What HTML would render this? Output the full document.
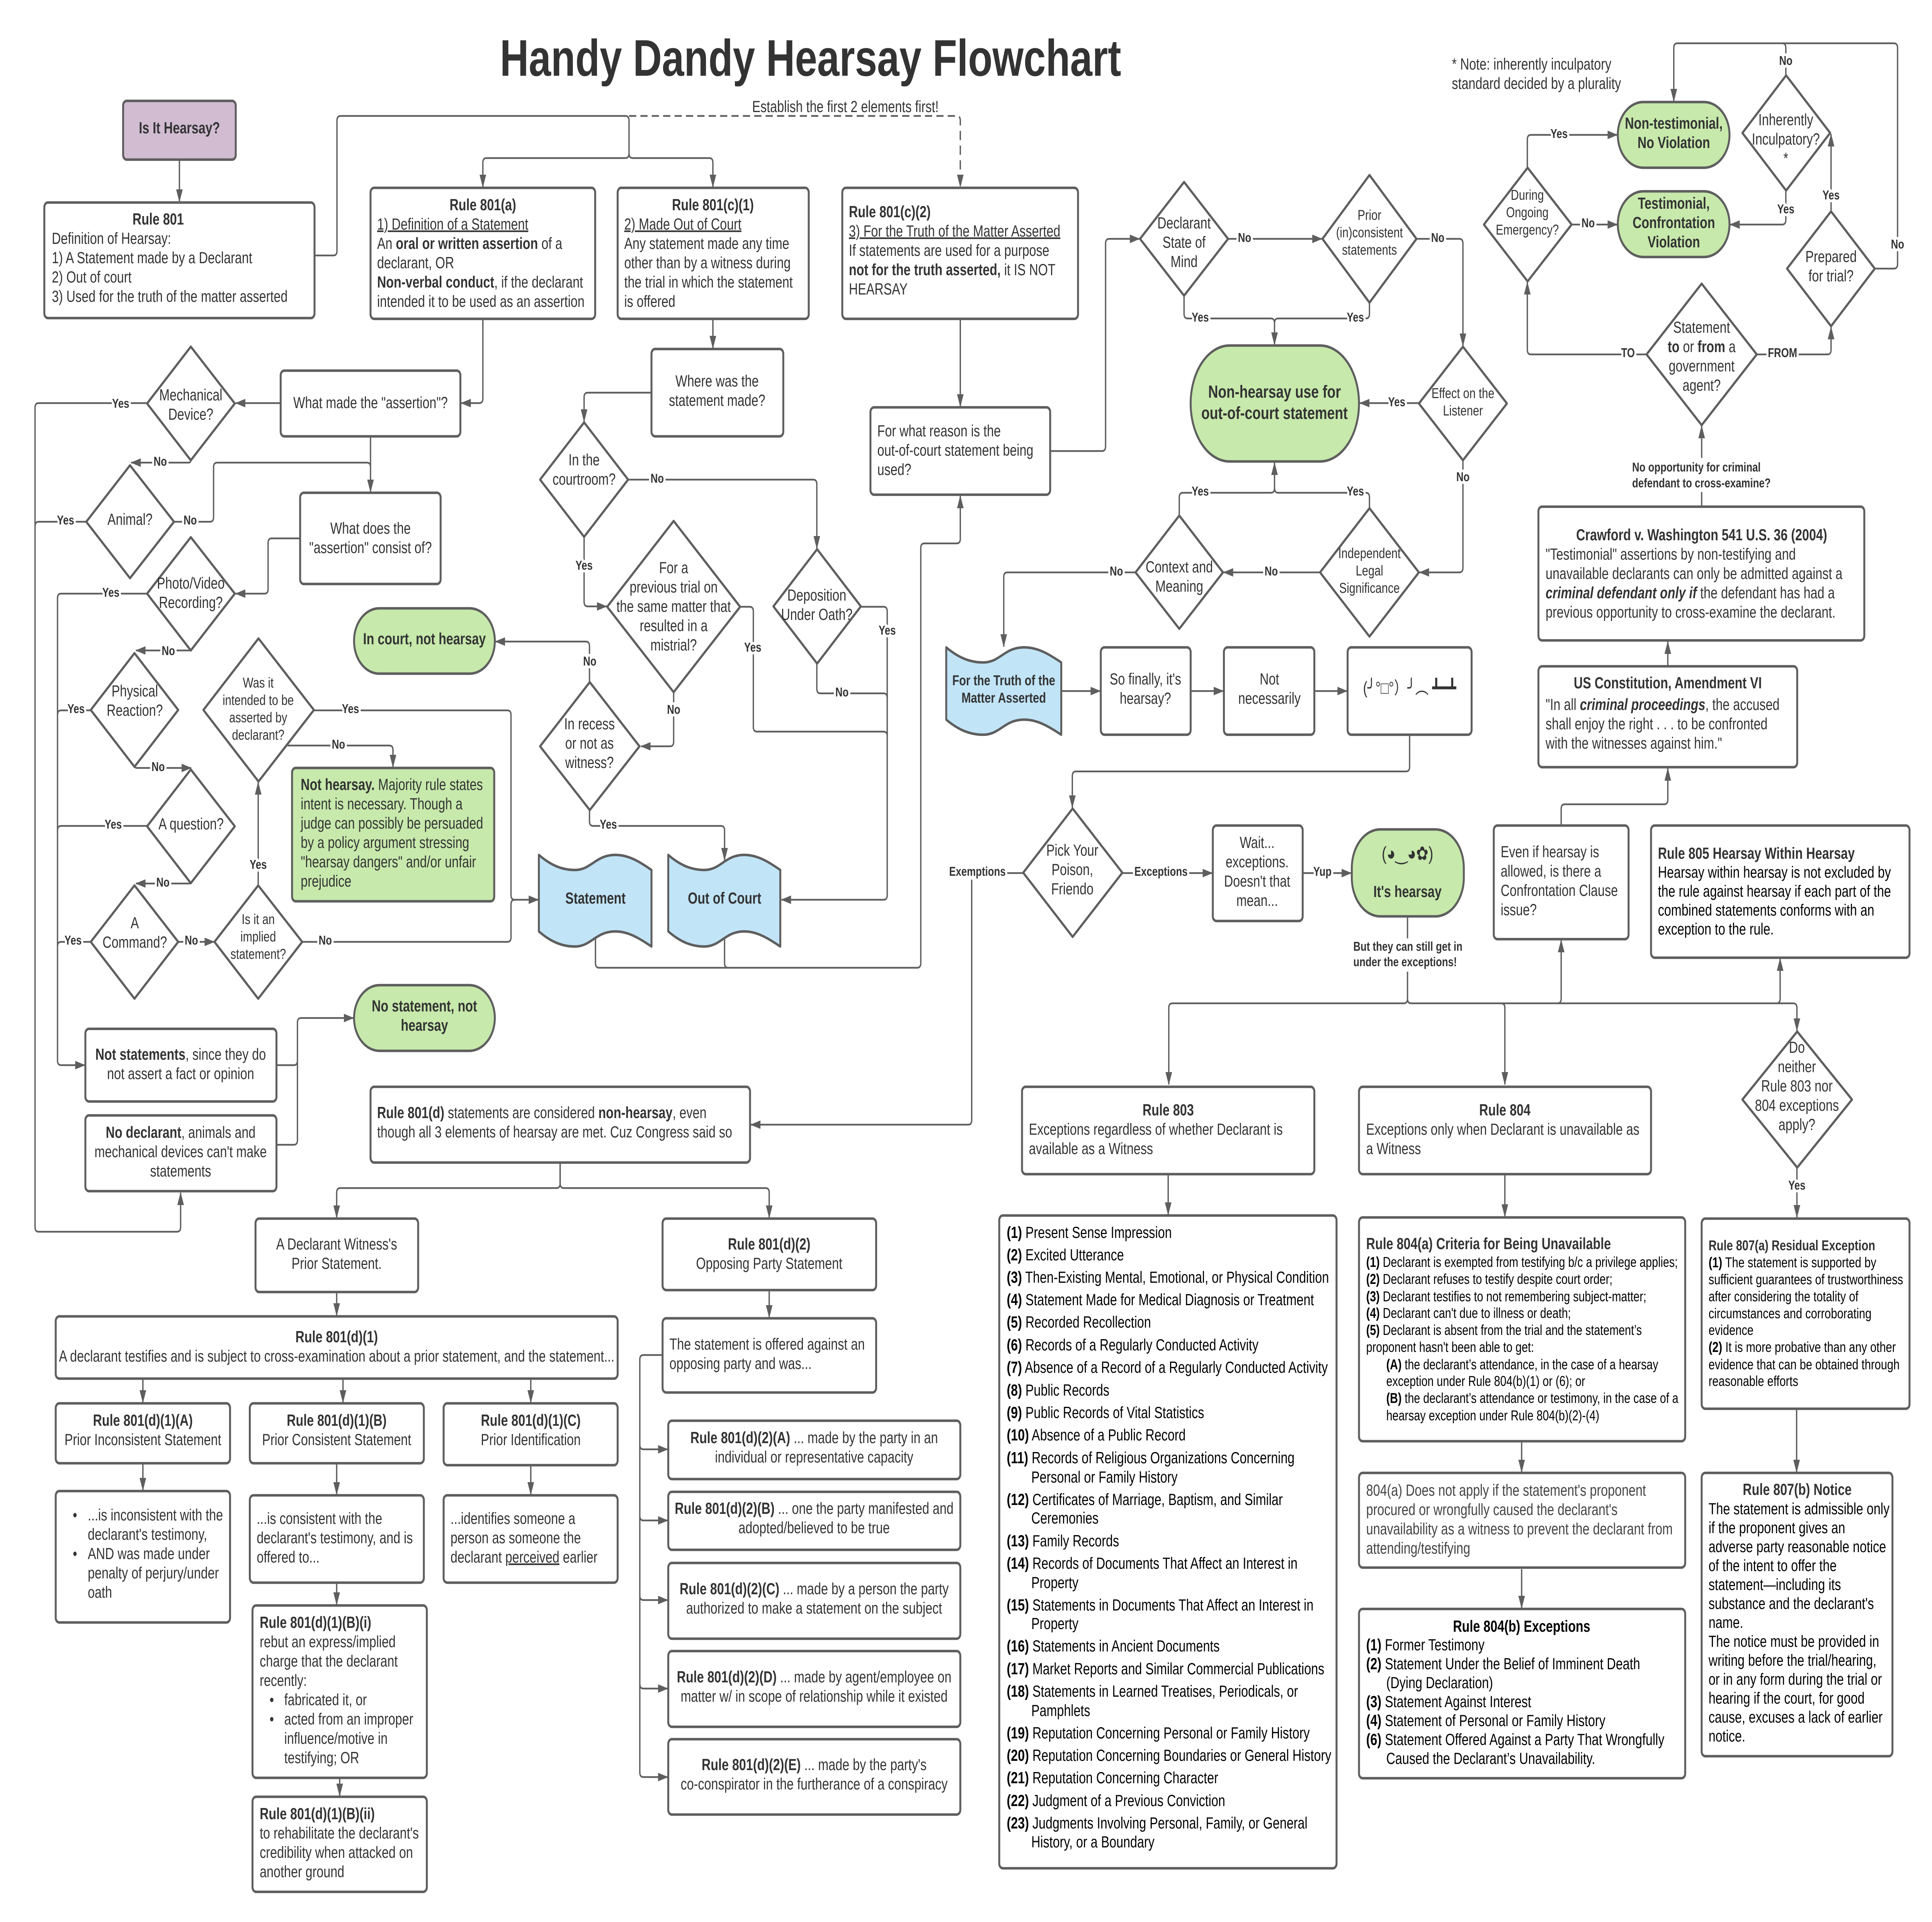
<!DOCTYPE html>
<html><head><meta charset="utf-8"><title>Handy Dandy Hearsay Flowchart</title>
<style>
html,body{margin:0;padding:0;background:#fff;width:100%;height:100%;overflow:hidden}
svg{display:block;width:100vw;height:100vh}
text{font-family:"Liberation Sans","DejaVu Sans","Noto Sans CJK JP",sans-serif;font-size:41.67px;fill:#333}
.c{text-anchor:middle}
.s{font-size:37.5px}
.k{fill:#000}
.g{fill:#444}
.b{font-weight:700}
.l{font-weight:700;font-size:33.3px;text-anchor:middle;paint-order:stroke;stroke:#fff;stroke-width:14px;stroke-linejoin:round}
.m{font-weight:700;font-size:33.3px}
.u{text-decoration:underline}
.n rect,.n polygon,.n path{stroke:#5e5e5e;stroke-width:6.5;stroke-linejoin:round;fill:#fff}
.n .gr{fill:#c7e9ac}
.n .bl{fill:#c1e4f7}
.n .pu{fill:#d1bcd2}
.e path{fill:none;stroke:#5e5e5e;stroke-width:4.5}
</style></head><body>
<svg xmlns="http://www.w3.org/2000/svg" viewBox="0 0 6450 4973" preserveAspectRatio="none">
<defs><marker id="a" markerUnits="userSpaceOnUse" markerWidth="36" markerHeight="24" refX="32" refY="12" orient="auto"><path d="M0 1L34 12L0 23Z" fill="#5e5e5e"/></marker></defs>
<rect x="0" y="0" width="6450" height="4973" fill="#fff"/>

<g class="e">
<path marker-end="url(#a)" d="M599 413V522"/>
<path marker-end="url(#a)" d="M1053 661H1113Q1125 661 1125 649V312Q1125 300 1137 300H2088Q2100 300 2100 312V397Q2100 409 2088 409H1624Q1612 409 1612 421V484"/>
<path marker-end="url(#a)" d="M2100 397Q2100 409 2112 409H2368Q2380 409 2380 421V484"/>
<path marker-end="url(#a)" stroke-dasharray="24 14" d="M2100 300H3194Q3206 300 3206 312V484"/>
<path marker-end="url(#a)" d="M1612 825V1031Q1612 1043 1600 1043H1540"/>
<path marker-end="url(#a)" d="M937 1043H787"/>
<path marker-end="url(#a)" d="M637 1187V1190Q637 1197 630 1197H438"/>
<path marker-end="url(#a)" d="M491 1043H129Q117 1043 117 1055V3175Q117 3187 129 3187H591Q603 3187 603 3175V3086"/>
<path d="M288 1350H129Q117 1350 117 1362"/>
<path marker-end="url(#a)" d="M1237 1129V1273"/>
<path d="M581 1350H701Q713 1350 713 1338V1209Q713 1197 725 1197H1225Q1237 1197 1237 1209"/>
<path marker-end="url(#a)" d="M1002 1393H907Q895 1393 895 1405V1524Q895 1536 883 1536H787"/>
<path marker-end="url(#a)" d="M491 1536H204Q192 1536 192 1548V2744Q192 2756 204 2756H283"/>
<path marker-end="url(#a)" d="M637 1679Q637 1683 630 1683H454"/>
<path d="M303 1838H204Q192 1838 192 1850"/>
<path marker-end="url(#a)" d="M450 1982Q450 1987 458 1987H638"/>
<path d="M491 2137H204Q192 2137 192 2149"/>
<path marker-end="url(#a)" d="M638 2282Q638 2286 630 2286H454"/>
<path d="M303 2437H204Q192 2437 192 2449"/>
<path marker-end="url(#a)" d="M595 2437H715"/>
<path marker-end="url(#a)" d="M862 2291V2024"/>
<path d="M1009 2437H1694Q1706 2437 1706 2425V2340Q1706 2328 1718 2328"/>
<path marker-end="url(#a)" d="M1048 1838H1694Q1706 1838 1706 1850V2316Q1706 2328 1718 2328H1797"/>
<path marker-end="url(#a)" d="M960 1929H1300Q1312 1929 1312 1941V1985"/>
<path marker-end="url(#a)" d="M923 2756H981Q993 2756 993 2744V2646Q993 2634 1005 2634H1180"/>
<path d="M923 2962H981Q993 2962 993 2950V2744"/>
<path marker-end="url(#a)" d="M2175 1016H1962Q1950 1016 1950 1028V1091"/>
<path marker-end="url(#a)" d="M2380 825V901"/>
<path marker-end="url(#a)" d="M1950 1389V1557Q1950 1569 1962 1569H2025"/>
<path marker-end="url(#a)" d="M2097 1241H2715Q2727 1241 2727 1253V1419"/>
<path marker-end="url(#a)" d="M2249 1791V1919Q2249 1931 2237 1931H2140"/>
<path marker-end="url(#a)" d="M1968 1765V1672Q1968 1660 1956 1660H1654"/>
<path marker-end="url(#a)" d="M1968 2096V2125Q1968 2137 1980 2137H2407Q2419 2137 2419 2149V2226"/>
<path d="M2471 1570H2503Q2515 1570 2515 1582V1881Q2515 1893 2527 1893H2950Q2962 1893 2962 1905"/>
<path marker-end="url(#a)" d="M2874 1570H2950Q2962 1570 2962 1582V2316Q2962 2328 2950 2328H2609"/>
<path d="M2727 1717V1782Q2727 1794 2739 1794H2950Q2962 1794 2962 1806"/>
<path marker-end="url(#a)" d="M1988 2427V2492Q1988 2504 2000 2504H3062Q3074 2504 3074 2492V1418Q3074 1406 3086 1406H3194Q3206 1406 3206 1394V1283"/>
<path d="M2419 2430V2492Q2419 2504 2431 2504"/>
<path marker-end="url(#a)" d="M3206 825V1052"/>
<path marker-end="url(#a)" d="M3506 1167H3679Q3691 1167 3691 1155V630Q3691 618 3703 618H3804"/>
<path marker-end="url(#a)" d="M4100 618H4413"/>
<path marker-end="url(#a)" d="M3953 765V812Q3953 824 3965 824H4243Q4255 824 4255 836V892"/>
<path d="M4572 783V812Q4572 824 4560 824H4267Q4255 824 4255 836"/>
<path marker-end="url(#a)" d="M4729 618H4872Q4884 618 4884 630V895"/>
<path marker-end="url(#a)" d="M4737 1043H4540"/>
<path marker-end="url(#a)" d="M4884 1191V1469Q4884 1481 4872 1481H4739"/>
<path marker-end="url(#a)" d="M4572 1315V1287Q4572 1275 4560 1275H4267Q4255 1275 4255 1263V1197"/>
<path d="M3937 1334V1287Q3937 1275 3949 1275H4243Q4255 1275 4255 1263"/>
<path marker-end="url(#a)" d="M4407 1481H4085"/>
<path marker-end="url(#a)" d="M3791 1481H3363Q3351 1481 3351 1493V1673"/>
<path marker-end="url(#a)" d="M3543 1788H3673"/>
<path marker-end="url(#a)" d="M3975 1788H4084"/>
<path marker-end="url(#a)" d="M4388 1788H4497"/>
<path marker-end="url(#a)" d="M4706 1901V1984Q4706 1996 4694 1996H3592Q3580 1996 3580 2008V2090"/>
<path marker-end="url(#a)" d="M3747 2259H4047"/>
<path marker-end="url(#a)" d="M4349 2259H4511"/>
<path marker-end="url(#a)" d="M3416 2259H3244V2898Q3244 2910 3232 2910H2507"/>
<path marker-end="url(#a)" d="M1870 3008V3062Q1870 3074 1858 3074H1136Q1124 3074 1124 3086V3151"/>
<path marker-end="url(#a)" d="M1870 3008V3062Q1870 3074 1882 3074H2556Q2568 3074 2568 3086V3151"/>
<path marker-end="url(#a)" d="M1124 3343V3404"/>
<path marker-end="url(#a)" d="M477 3570V3629"/>
<path marker-end="url(#a)" d="M1145 3570V3629"/>
<path marker-end="url(#a)" d="M1772 3570V3629"/>
<path marker-end="url(#a)" d="M477 3789V3856"/>
<path marker-end="url(#a)" d="M1124 3789V3867"/>
<path marker-end="url(#a)" d="M1772 3794V3867"/>
<path marker-end="url(#a)" d="M1124 4098V4152"/>
<path marker-end="url(#a)" d="M1134 4603V4647"/>
<path marker-end="url(#a)" d="M2568 3338V3409"/>
<path marker-end="url(#a)" d="M2212 3506H2148Q2136 3506 2136 3518V4586Q2136 4598 2148 4598H2229"/>
<path marker-end="url(#a)" d="M2136 3738Q2136 3750 2148 3750H2229"/>
<path marker-end="url(#a)" d="M2136 3922Q2136 3934 2148 3934H2229"/>
<path marker-end="url(#a)" d="M2136 4128Q2136 4140 2148 4140H2229"/>
<path marker-end="url(#a)" d="M2136 4357Q2136 4369 2148 4369H2229"/>
<path marker-end="url(#a)" d="M4699 2373V2584Q4699 2596 4687 2596H3914Q3902 2596 3902 2608V2806"/>
<path marker-end="url(#a)" d="M4699 2584Q4699 2596 4711 2596H5012Q5024 2596 5024 2608V2806"/>
<path marker-end="url(#a)" d="M5012 2596H5200Q5212 2596 5212 2584V2432"/>
<path marker-end="url(#a)" d="M5200 2596H5931Q5943 2596 5943 2584V2480"/>
<path marker-end="url(#a)" d="M5931 2596H5987Q5999 2596 5999 2608V2667"/>
<path marker-end="url(#a)" d="M5212 2136V2093Q5212 2081 5224 2081H5556Q5568 2081 5568 2069V1988"/>
<path marker-end="url(#a)" d="M5568 1724V1660"/>
<path marker-end="url(#a)" d="M5681 1311V1102"/>
<path marker-end="url(#a)" d="M5497 917H5111Q5099 917 5099 905V730"/>
<path marker-end="url(#a)" d="M5865 917H6101Q6113 917 6113 905V846"/>
<path marker-end="url(#a)" d="M5099 434V361Q5099 349 5111 349H5399"/>
<path marker-end="url(#a)" d="M5247 581H5399"/>
<path marker-end="url(#a)" d="M5962 493V569Q5962 581 5950 581H5776"/>
<path d="M5962 195V124Q5962 112 5950 112"/>
<path marker-end="url(#a)" d="M6259 695H6323Q6335 695 6335 683V124Q6335 112 6323 112H5600Q5588 112 5588 124V262"/>
<path marker-end="url(#a)" d="M6113 547V347"/>
<path marker-end="url(#a)" d="M5999 3021V3150"/>
<path marker-end="url(#a)" d="M3900 3038V3143"/>
<path marker-end="url(#a)" d="M5024 3038V3148"/>
<path marker-end="url(#a)" d="M5080 3729V3809"/>
<path marker-end="url(#a)" d="M5080 4060V4161"/>
<path marker-end="url(#a)" d="M5998 3645V3809"/>
</g>
<rect x="5440" y="1185" width="490" height="88" fill="#fff"/>
<rect x="4510" y="2428" width="380" height="86" fill="#fff"/>
<rect x="3170" y="2240" width="180" height="36" fill="#fff"/>

<g class="n">
<rect class="pu" x="411" y="261" width="376" height="152" rx="12"/>
<rect x="148" y="524" width="902" height="299" rx="12"/>
<rect x="1237" y="486" width="750" height="339" rx="12"/>
<rect x="2062" y="486" width="638" height="339" rx="12"/>
<rect x="2812" y="486" width="787" height="339" rx="12"/>
<rect x="937" y="959" width="600" height="170" rx="12"/>
<rect x="1002" y="1275" width="469" height="236" rx="12"/>
<rect x="2175" y="903" width="440" height="226" rx="12"/>
<rect x="2906" y="1054" width="600" height="226" rx="12"/>
<rect class="gr" x="3975" y="894" width="562" height="300" rx="130" ry="150"/>
<rect class="gr" x="5401" y="264" width="373" height="170" rx="85"/>
<rect class="gr" x="5401" y="495" width="373" height="170" rx="85"/>
<rect x="5136" y="1311" width="1088" height="346" rx="12"/>
<rect x="5136" y="1724" width="864" height="261" rx="12"/>
<rect x="4987" y="2136" width="450" height="294" rx="12"/>
<rect x="5512" y="2136" width="863" height="342" rx="12"/>
<rect x="4499" y="1675" width="414" height="226" rx="12"/>
<rect x="4086" y="1675" width="302" height="226" rx="12"/>
<rect x="3675" y="1675" width="300" height="226" rx="12"/>
<rect x="4049" y="2136" width="300" height="247" rx="12"/>
<rect class="gr" x="4513" y="2146" width="374" height="225" rx="95" ry="100"/>
<rect x="3412" y="2812" width="976" height="226" rx="12"/>
<rect x="4537" y="2812" width="975" height="226" rx="12"/>
<rect x="3336" y="3145" width="1126" height="1689" rx="12"/>
<rect x="4537" y="3150" width="1089" height="579" rx="12"/>
<rect x="4537" y="3811" width="1089" height="245" rx="12"/>
<rect x="4537" y="4163" width="1089" height="438" rx="12"/>
<rect x="5681" y="3153" width="694" height="492" rx="12"/>
<rect x="5681" y="3811" width="637" height="733" rx="12"/>
<rect class="gr" x="1182" y="1574" width="470" height="169" rx="84"/>
<rect class="gr" x="1182" y="2549" width="470" height="170" rx="85"/>
<rect class="gr" x="975" y="1987" width="675" height="345" rx="12"/>
<rect x="285" y="2662" width="638" height="188" rx="12"/>
<rect x="285" y="2886" width="638" height="196" rx="12"/>
<rect x="1237" y="2812" width="1267" height="196" rx="12"/>
<rect x="853" y="3153" width="543" height="190" rx="12"/>
<rect x="2212" y="3153" width="713" height="185" rx="12"/>
<rect x="186" y="3406" width="1876" height="161" rx="12"/>
<rect x="186" y="3631" width="582" height="155" rx="12"/>
<rect x="834" y="3631" width="581" height="155" rx="12"/>
<rect x="1481" y="3631" width="581" height="160" rx="12"/>
<rect x="186" y="3858" width="582" height="340" rx="12"/>
<rect x="834" y="3869" width="581" height="226" rx="12"/>
<rect x="1481" y="3869" width="581" height="226" rx="12"/>
<rect x="843" y="4154" width="582" height="446" rx="12"/>
<rect x="843" y="4649" width="582" height="246" rx="12"/>
<rect x="2212" y="3411" width="713" height="192" rx="12"/>
<rect x="2231" y="3676" width="975" height="151" rx="12"/>
<rect x="2231" y="3860" width="975" height="150" rx="12"/>
<rect x="2231" y="4044" width="975" height="196" rx="12"/>
<rect x="2231" y="4272" width="975" height="196" rx="12"/>
<rect x="2231" y="4500" width="975" height="195" rx="12"/>

<polygon points="637,897 784,1044 637,1191 491,1044"/>
<polygon points="434,1204 581,1350 434,1496 288,1350"/>
<polygon points="637,1390 784,1536 637,1683 491,1536"/>
<polygon points="449,1690 595,1837 449,1984 303,1837"/>
<polygon points="637,1991 784,2138 637,2285 491,2138"/>
<polygon points="449,2291 595,2437 449,2584 303,2437"/>
<polygon points="862,2291 1009,2437 862,2584 716,2437"/>
<polygon points="863,1652 1048,1837 863,2022 679,1837"/>
<polygon points="1950,1093 2097,1241 1950,1389 1803,1241"/>
<polygon points="2249,1348 2471,1570 2249,1791 2027,1570"/>
<polygon points="2728,1421 2874,1569 2728,1717 2582,1569"/>
<polygon points="1969,1765 2135,1931 1969,2096 1803,1931"/>
<polygon points="3953,471 4100,618 3953,765 3806,618"/>
<polygon points="4572,453 4729,618 4572,783 4415,618"/>
<polygon points="4884,897 5031,1044 4884,1191 4737,1044"/>
<polygon points="4572,1315 4737,1481 4572,1647 4407,1481"/>
<polygon points="3937,1334 4083,1481 3937,1627 3791,1481"/>
<polygon points="5100,434 5247,581 5100,728 4954,581"/>
<polygon points="5963,195 6110,344 5963,493 5817,344"/>
<polygon points="6113,547 6259,695 6113,844 5966,695"/>
<polygon points="5681,734 5865,917 5681,1100 5497,917"/>
<polygon points="3581,2092 3747,2258 3581,2424 3416,2258"/>
<polygon points="6000,2669 6183,2845 6000,3021 5817,2845"/>

<path class="bl" d="M1799 2212C1836 2237 1874 2251 1919 2251C1975 2251 1987 2212 2055 2212C2100 2212 2138 2231 2175 2251V2449C2138 2430 2100 2410 2055 2410C1987 2410 1975 2449 1919 2449C1874 2449 1836 2435 1799 2410Z"/>
<path class="bl" d="M2231 2212C2268 2237 2306 2251 2351 2251C2407 2251 2419 2212 2485 2212C2530 2212 2568 2231 2605 2251V2449C2568 2430 2530 2410 2485 2410C2419 2410 2407 2449 2351 2449C2306 2449 2268 2435 2231 2410Z"/>
<path class="bl" d="M3159 1675C3197 1700 3236 1714 3282 1714C3340 1714 3351 1675 3420 1675C3466 1675 3505 1694 3543 1714V1901C3505 1882 3466 1862 3420 1862C3351 1862 3340 1901 3282 1901C3236 1901 3197 1887 3159 1862Z"/>
</g>

<text class="b" x="1669" y="196" style="font-size:133.3px">Handy Dandy Hearsay Flowchart</text>

<text class="c b" x="599" y="345">Is It Hearsay?</text>
<text class="c b" x="528" y="581">Rule 801</text>
<text x="173" y="631">Definition of Hearsay:</text>
<text x="173" y="681">1) A Statement made by a Declarant</text>
<text x="173" y="731">2) Out of court</text>
<text x="173" y="781">3) Used for the truth of the matter asserted</text>

<text class="c b" x="1612" y="544">Rule 801(a)</text>
<text x="1259" y="594" class="u">1) Definition of a Statement</text>
<text x="1259" y="644">An <tspan class="b">oral or written assertion</tspan> of a</text>
<text x="1259" y="694">declarant, OR</text>
<text x="1259" y="744"><tspan class="b">Non-verbal conduct</tspan>, if the declarant</text>
<text x="1259" y="794">intended it to be used as an assertion</text>

<text class="c b" x="2380" y="544">Rule 801(c)(1)</text>
<text x="2084" y="594" class="u">2) Made Out of Court</text>
<text x="2084" y="644">Any statement made any time</text>
<text x="2084" y="694">other than by a witness during</text>
<text x="2084" y="744">the trial in which the statement</text>
<text x="2084" y="794">is offered</text>

<text class="b" x="2834" y="562">Rule 801(c)(2)</text>
<text x="2834" y="612" class="u">3) For the Truth of the Matter Asserted</text>
<text x="2834" y="662">If statements are used for a purpose</text>
<text x="2834" y="712"><tspan class="b">not for the truth asserted,</tspan> it IS NOT</text>
<text x="2834" y="762">HEARSAY</text>

<text class="c" x="1237" y="1056">What made the "assertion"?</text>
<text class="c" x="1237" y="1381">What does the</text>
<text class="c" x="1237" y="1431">"assertion" consist of?</text>
<text class="c" x="2394" y="1000">Where was the</text>
<text class="c" x="2394" y="1050">statement made?</text>
<text x="2929" y="1129">For what reason is the</text>
<text x="2929" y="1179">out-of-court statement being</text>
<text x="2929" y="1229">used?</text>

<text class="c" x="637" y="1036">Mechanical</text>
<text class="c" x="637" y="1086">Device?</text>
<text class="c" x="434" y="1358">Animal?</text>
<text class="c" x="637" y="1523">Photo/Video</text>
<text class="c" x="637" y="1573">Recording?</text>
<text class="c" x="450" y="1802">Physical</text>
<text class="c" x="450" y="1852">Reaction?</text>
<text class="c" x="638" y="2146">A question?</text>
<text class="c" x="450" y="2402">A</text>
<text class="c" x="450" y="2452">Command?</text>
<text class="c s" x="862" y="2391">Is it an</text>
<text class="c s" x="862" y="2436">implied</text>
<text class="c s" x="862" y="2481">statement?</text>
<text class="c s" x="862" y="1779">Was it</text>
<text class="c s" x="862" y="1824">intended to be</text>
<text class="c s" x="862" y="1869">asserted by</text>
<text class="c s" x="862" y="1914">declarant?</text>

<text x="1004" y="2044"><tspan class="b">Not hearsay.</tspan> Majority rule states</text>
<text x="1004" y="2094">intent is necessary. Though a</text>
<text x="1004" y="2144">judge can possibly be persuaded</text>
<text x="1004" y="2194">by a policy argument stressing</text>
<text x="1004" y="2244">"hearsay dangers" and/or unfair</text>
<text x="1004" y="2294">prejudice</text>

<text class="c b" x="1417" y="1667">In court, not hearsay</text>
<text class="c b" x="1417" y="2617">No statement, not</text>
<text class="c b" x="1417" y="2667">hearsay</text>
<text class="c" x="603" y="2742"><tspan class="b">Not statements</tspan>, since they do</text>
<text class="c" x="603" y="2792">not assert a fact or opinion</text>
<text class="c" x="603" y="2944"><tspan class="b">No declarant</tspan>, animals and</text>
<text class="c" x="603" y="2994">mechanical devices can't make</text>
<text class="c" x="603" y="3044">statements</text>
<text x="1259" y="2893"><tspan class="b">Rule 801(d)</tspan> statements are considered <tspan class="b">non-hearsay</tspan>, even</text>
<text x="1259" y="2943">though all 3 elements of hearsay are met. Cuz Congress said so</text>
<text class="c" x="1124" y="3233">A Declarant Witness's</text>
<text class="c" x="1124" y="3283">Prior Statement.</text>

<text class="c" x="1950" y="1204">In the</text>
<text class="c" x="1950" y="1254">courtroom?</text>
<text class="c" x="1968" y="1887">In recess</text>
<text class="c" x="1968" y="1937">or not as</text>
<text class="c" x="1968" y="1987">witness?</text>
<text class="c" x="2249" y="1483">For a</text>
<text class="c" x="2249" y="1533">previous trial on</text>
<text class="c" x="2249" y="1583">the same matter that</text>
<text class="c" x="2249" y="1633">resulted in a</text>
<text class="c" x="2249" y="1683">mistrial?</text>
<text class="c" x="2727" y="1554">Deposition</text>
<text class="c" x="2727" y="1604">Under Oath?</text>
<text class="c b" x="1988" y="2338">Statement</text>
<text class="c b" x="2419" y="2338">Out of Court</text>
<text class="c b s" x="3351" y="1773">For the Truth of the</text>
<text class="c b s" x="3351" y="1818">Matter Asserted</text>
<text class="c" x="3824" y="1771">So finally, it's</text>
<text class="c" x="3824" y="1821">hearsay?</text>
<text class="c" x="4238" y="1771">Not</text>
<text class="c" x="4238" y="1821">necessarily</text>
<text class="c" x="4706" y="1795" style="font-size:44.3px">(╯°□°）╯︵ ┻━┻</text>

<text class="c" x="3580" y="2214">Pick Your</text>
<text class="c" x="3580" y="2264">Poison,</text>
<text class="c" x="3580" y="2314">Friendo</text>
<text class="c" x="4197" y="2194">Wait...</text>
<text class="c" x="4197" y="2244">exceptions.</text>
<text class="c" x="4197" y="2294">Doesn't that</text>
<text class="c" x="4197" y="2344">mean...</text>
<text class="c" x="4699" y="2225" style="font-size:49px">(◕‿◕✿)</text>
<text class="c b" x="4699" y="2321">It's hearsay</text>
<text class="m" x="4518" y="2460">But they can still get in</text>
<text class="m" x="4518" y="2500">under the exceptions!</text>

<text x="5010" y="2218">Even if hearsay is</text>
<text x="5010" y="2268">allowed, is there a</text>
<text x="5010" y="2318">Confrontation Clause</text>
<text x="5010" y="2368">issue?</text>
<text class="b" x="5535" y="2222">Rule 805 Hearsay Within Hearsay</text>
<text class="k" x="5535" y="2271">Hearsay within hearsay is not excluded by</text>
<text class="k" x="5535" y="2320">the rule against hearsay if each part of the</text>
<text class="k" x="5535" y="2369">combined statements conforms with an</text>
<text class="k" x="5535" y="2418">exception to the rule.</text>

<text class="c b" x="5568" y="1781">US Constitution, Amendment VI</text>
<text x="5160" y="1837">"In all <tspan class="b" font-style="italic">criminal proceedings</tspan>, the accused</text>
<text x="5160" y="1887">shall enjoy the right . . . to be confronted</text>
<text x="5160" y="1937">with the witnesses against him."</text>

<text class="c b" x="5681" y="1398">Crawford v. Washington 541 U.S. 36 (2004)</text>
<text x="5160" y="1448">"Testimonial" assertions by non-testifying and</text>
<text x="5160" y="1498">unavailable declarants can only be admitted against a</text>
<text x="5160" y="1548"><tspan class="b" font-style="italic">criminal defendant only if</tspan> the defendant has had a</text>
<text x="5160" y="1598">previous opportunity to cross-examine the declarant.</text>

<text x="4847" y="180">* Note: inherently inculpatory</text>
<text x="4847" y="230">standard decided by a plurality</text>
<text x="2511" y="290">Establish the first 2 elements first!</text>

<text class="c b" x="5588" y="333">Non-testimonial,</text>
<text class="c b" x="5588" y="383">No Violation</text>
<text class="c b" x="5588" y="540">Testimonial,</text>
<text class="c b" x="5588" y="590">Confrontation</text>
<text class="c b" x="5588" y="640">Violation</text>
<text class="c s" x="5099" y="517">During</text>
<text class="c s" x="5099" y="562">Ongoing</text>
<text class="c s" x="5099" y="607">Emergency?</text>
<text class="c" x="5962" y="324">Inherently</text>
<text class="c" x="5962" y="374">Inculpatory?</text>
<text class="c" x="5962" y="424">*</text>
<text class="c" x="6113" y="678">Prepared</text>
<text class="c" x="6113" y="728">for trial?</text>
<text class="c" x="5681" y="861">Statement</text>
<text class="c" x="5681" y="911"><tspan class="b">to</tspan> or <tspan class="b">from</tspan> a</text>
<text class="c" x="5681" y="961">government</text>
<text class="c" x="5681" y="1011">agent?</text>
<text class="c" x="3953" y="591">Declarant</text>
<text class="c" x="3953" y="641">State of</text>
<text class="c" x="3953" y="691">Mind</text>
<text class="c s" x="4572" y="569">Prior</text>
<text class="c s" x="4572" y="614">(in)consistent</text>
<text class="c s" x="4572" y="659">statements</text>
<text class="c s" x="4884" y="1030">Effect on the</text>
<text class="c s" x="4884" y="1075">Listener</text>
<text class="c s" x="4572" y="1444">Independent</text>
<text class="c s" x="4572" y="1489">Legal</text>
<text class="c s" x="4572" y="1534">Significance</text>
<text class="c" x="3937" y="1481">Context and</text>
<text class="c" x="3937" y="1531">Meaning</text>
<text class="c b" x="4255" y="1029" style="font-size:45.83px">Non-hearsay use for</text>
<text class="c b" x="4255" y="1084" style="font-size:45.83px">out-of-court statement</text>

<text class="c b" x="3900" y="2886">Rule 803</text>
<text x="3435" y="2936">Exceptions regardless of whether Declarant is</text>
<text x="3435" y="2986">available as a Witness</text>
<text class="c b" x="5024" y="2886">Rule 804</text>
<text x="4561" y="2936">Exceptions only when Declarant is unavailable as</text>
<text x="4561" y="2986">a Witness</text>
<text class="c" x="5999" y="2724">Do</text>
<text class="c" x="5999" y="2774">neither</text>
<text class="c" x="5999" y="2824">Rule 803 nor</text>
<text class="c" x="5999" y="2874">804 exceptions</text>
<text class="c" x="5999" y="2924">apply?</text>

<g class="k">
<text class="k" x="3361" y="3203"><tspan class="b k">(1)</tspan> Present Sense Impression</text>
<text class="k" x="3361" y="3261"><tspan class="b k">(2)</tspan> Excited Utterance</text>
<text class="k" x="3361" y="3319"><tspan class="b k">(3)</tspan> Then-Existing Mental, Emotional, or Physical Condition</text>
<text class="k" x="3361" y="3377"><tspan class="b k">(4)</tspan> Statement Made for Medical Diagnosis or Treatment</text>
<text class="k" x="3361" y="3435"><tspan class="b k">(5)</tspan> Recorded Recollection</text>
<text class="k" x="3361" y="3494"><tspan class="b k">(6)</tspan> Records of a Regularly Conducted Activity</text>
<text class="k" x="3361" y="3552"><tspan class="b k">(7)</tspan> Absence of a Record of a Regularly Conducted Activity</text>
<text class="k" x="3361" y="3611"><tspan class="b k">(8)</tspan> Public Records</text>
<text class="k" x="3361" y="3669"><tspan class="b k">(9)</tspan> Public Records of Vital Statistics</text>
<text class="k" x="3361" y="3727"><tspan class="b k">(10)</tspan> Absence of a Public Record</text>
<text class="k" x="3361" y="3786"><tspan class="b k">(11)</tspan> Records of Religious Organizations Concerning</text>
<text class="k" x="3443" y="3836">Personal or Family History</text>
<text class="k" x="3361" y="3894"><tspan class="b k">(12)</tspan> Certificates of Marriage, Baptism, and Similar</text>
<text class="k" x="3443" y="3942">Ceremonies</text>
<text class="k" x="3361" y="4001"><tspan class="b k">(13)</tspan> Family Records</text>
<text class="k" x="3361" y="4059"><tspan class="b k">(14)</tspan> Records of Documents That Affect an Interest in</text>
<text class="k" x="3443" y="4109">Property</text>
<text class="k" x="3361" y="4167"><tspan class="b k">(15)</tspan> Statements in Documents That Affect an Interest in</text>
<text class="k" x="3443" y="4215">Property</text>
<text class="k" x="3361" y="4273"><tspan class="b k">(16)</tspan> Statements in Ancient Documents</text>
<text class="k" x="3361" y="4332"><tspan class="b k">(17)</tspan> Market Reports and Similar Commercial Publications</text>
<text class="k" x="3361" y="4390"><tspan class="b k">(18)</tspan> Statements in Learned Treatises, Periodicals, or</text>
<text class="k" x="3443" y="4440">Pamphlets</text>
<text class="k" x="3361" y="4498"><tspan class="b k">(19)</tspan> Reputation Concerning Personal or Family History</text>
<text class="k" x="3361" y="4556"><tspan class="b k">(20)</tspan> Reputation Concerning Boundaries or General History</text>
<text class="k" x="3361" y="4614"><tspan class="b k">(21)</tspan> Reputation Concerning Character</text>
<text class="k" x="3361" y="4673"><tspan class="b k">(22)</tspan> Judgment of a Previous Conviction</text>
<text class="k" x="3361" y="4731"><tspan class="b k">(23)</tspan> Judgments Involving Personal, Family, or General</text>
<text class="k" x="3443" y="4780">History, or a Boundary</text>
</g>

<text class="b" x="4561" y="3232">Rule 804(a) Criteria for Being Unavailable</text>
<text class="k" style="font-size:37px" x="4561" y="3278"><tspan class="b k">(1)</tspan> Declarant is exempted from testifying b/c a privilege applies;</text>
<text class="k" style="font-size:37px" x="4561" y="3322"><tspan class="b k">(2)</tspan> Declarant refuses to testify despite court order;</text>
<text class="k" style="font-size:37px" x="4561" y="3367"><tspan class="b k">(3)</tspan> Declarant testifies to not remembering subject-matter;</text>
<text class="k" style="font-size:37px" x="4561" y="3410"><tspan class="b k">(4)</tspan> Declarant can't due to illness or death;</text>
<text class="k" style="font-size:37px" x="4561" y="3454"><tspan class="b k">(5)</tspan> Declarant is absent from the trial and the statement’s</text>
<text class="k" style="font-size:37px" x="4561" y="3498">proponent hasn't been able to get:</text>
<text class="k" style="font-size:37px" x="4628" y="3543"><tspan class="b k">(A)</tspan> the declarant’s attendance, in the case of a hearsay</text>
<text class="k" style="font-size:37px" x="4628" y="3586">exception under Rule 804(b)(1) or (6); or</text>
<text class="k" style="font-size:37px" x="4628" y="3630"><tspan class="b k">(B)</tspan> the declarant’s attendance or testimony, in the case of a</text>
<text class="k" style="font-size:37px" x="4628" y="3675">hearsay exception under Rule 804(b)(2)-(4)</text>

<text class="g" x="4561" y="3870">804(a) Does not apply if the statement's proponent</text>
<text class="g" x="4561" y="3920">procured or wrongfully caused the declarant's</text>
<text class="g" x="4561" y="3970">unavailability as a witness to prevent the declarant from</text>
<text class="g" x="4561" y="4020">attending/testifying</text>

<text class="c b k" x="5080" y="4222">Rule 804(b) Exceptions</text>
<text class="k" x="4561" y="4270"><tspan class="b k">(1)</tspan> Former Testimony</text>
<text class="k" x="4561" y="4319"><tspan class="b k">(2)</tspan> Statement Under the Belief of Imminent Death</text>
<text class="k" x="4628" y="4368">(Dying Declaration)</text>
<text class="k" x="4561" y="4417"><tspan class="b k">(3)</tspan> Statement Against Interest</text>
<text class="k" x="4561" y="4466"><tspan class="b k">(4)</tspan> Statement of Personal or Family History</text>
<text class="k" x="4561" y="4515"><tspan class="b k">(6)</tspan> Statement Offered Against a Party That Wrongfully</text>
<text class="k" x="4628" y="4564">Caused the Declarant’s Unavailability.</text>

<text class="b s" x="5704" y="3235">Rule 807(a) Residual Exception</text>
<text class="k s" x="5704" y="3279"><tspan class="b k">(1)</tspan> The statement is supported by</text>
<text class="k s" x="5704" y="3323">sufficient guarantees of trustworthiness</text>
<text class="k s" x="5704" y="3367">after considering the totality of</text>
<text class="k s" x="5704" y="3411">circumstances and corroborating</text>
<text class="k s" x="5704" y="3454">evidence</text>
<text class="k s" x="5704" y="3498"><tspan class="b k">(2)</tspan> It is more probative than any other</text>
<text class="k s" x="5704" y="3543">evidence that can be obtained through</text>
<text class="k s" x="5704" y="3586">reasonable efforts</text>

<text class="c b" x="6000" y="3868">Rule 807(b) Notice</text>
<text class="k" x="5704" y="3918">The statement is admissible only</text>
<text class="k" x="5704" y="3967">if the proponent gives an</text>
<text class="k" x="5704" y="4016">adverse party reasonable notice</text>
<text class="k" x="5704" y="4065">of the intent to offer the</text>
<text class="k" x="5704" y="4114">statement—including its</text>
<text class="k" x="5704" y="4163">substance and the declarant's</text>
<text class="k" x="5704" y="4212">name.</text>
<text class="k" x="5704" y="4261">The notice must be provided in</text>
<text class="k" x="5704" y="4310">writing before the trial/hearing,</text>
<text class="k" x="5704" y="4359">or in any form during the trial or</text>
<text class="k" x="5704" y="4408">hearing if the court, for good</text>
<text class="k" x="5704" y="4457">cause, excuses a lack of earlier</text>
<text class="k" x="5704" y="4506">notice.</text>

<text class="c b" x="2568" y="3233">Rule 801(d)(2)</text>
<text class="c" x="2568" y="3283">Opposing Party Statement</text>
<text class="c b" x="1124" y="3473">Rule 801(d)(1)</text>
<text class="c" x="1124" y="3523">A declarant testifies and is subject to cross-examination about a prior statement, and the statement...</text>
<text class="c b" x="477" y="3689">Rule 801(d)(1)(A)</text>
<text class="c" x="477" y="3739">Prior Inconsistent Statement</text>
<text class="c b" x="1124" y="3689">Rule 801(d)(1)(B)</text>
<text class="c" x="1124" y="3739">Prior Consistent Statement</text>
<text class="c b" x="1772" y="3689">Rule 801(d)(1)(C)</text>
<text class="c" x="1772" y="3739">Prior Identification</text>

<text x="243" y="3934">•</text><text x="293" y="3934">...is inconsistent with the</text>
<text x="293" y="3984">declarant's testimony,</text>
<text x="243" y="4034">•</text><text x="293" y="4034">AND was made under</text>
<text x="293" y="4084">penalty of perjury/under</text>
<text x="293" y="4134">oath</text>

<text x="857" y="3943">...is consistent with the</text>
<text x="857" y="3993">declarant's testimony, and is</text>
<text x="857" y="4043">offered to...</text>
<text x="1504" y="3943">...identifies someone a</text>
<text x="1504" y="3993">person as someone the</text>
<text x="1504" y="4043">declarant <tspan class="u">perceived</tspan> earlier</text>

<text class="b" x="867" y="4212">Rule 801(d)(1)(B)(i)</text>
<text x="867" y="4262">rebut an express/implied</text>
<text x="867" y="4312">charge that the declarant</text>
<text x="867" y="4362">recently:</text>
<text x="900" y="4412">•</text><text x="949" y="4412">fabricated it, or</text>
<text x="900" y="4462">•</text><text x="949" y="4462">acted from an improper</text>
<text x="949" y="4512">influence/motive in</text>
<text x="949" y="4562">testifying; OR</text>

<text class="b" x="867" y="4707">Rule 801(d)(1)(B)(ii)</text>
<text x="867" y="4757">to rehabilitate the declarant's</text>
<text x="867" y="4807">credibility when attacked on</text>
<text x="867" y="4857">another ground</text>

<text x="2235" y="3492">The statement is offered against an</text>
<text x="2235" y="3542">opposing party and was...</text>
<text class="c" x="2718" y="3734"><tspan class="b">Rule 801(d)(2)(A)</tspan> ... made by the party in an</text>
<text class="c" x="2718" y="3784">individual or representative capacity</text>
<text class="c" x="2718" y="3917"><tspan class="b">Rule 801(d)(2)(B)</tspan> ... one the party manifested and</text>
<text class="c" x="2718" y="3967">adopted/believed to be true</text>
<text class="c" x="2718" y="4125"><tspan class="b">Rule 801(d)(2)(C)</tspan> ... made by a person the party</text>
<text class="c" x="2718" y="4175">authorized to make a statement on the subject</text>
<text class="c" x="2718" y="4353"><tspan class="b">Rule 801(d)(2)(D)</tspan> ... made by agent/employee on</text>
<text class="c" x="2718" y="4403">matter w/ in scope of relationship while it existed</text>
<text class="c" x="2718" y="4580"><tspan class="b">Rule 801(d)(2)(E)</tspan> ... made by the party's</text>
<text class="c" x="2718" y="4630">co-conspirator in the furtherance of a conspiracy</text>

<text class="l" x="403" y="1055">Yes</text>
<text class="l" x="535" y="1205">No</text>
<text class="l" x="219" y="1357">Yes</text>
<text class="l" x="635" y="1357">No</text>
<text class="l" x="370" y="1544">Yes</text>
<text class="l" x="562" y="1695">No</text>
<text class="l" x="254" y="1845">Yes</text>
<text class="l" x="528" y="1995">No</text>
<text class="l" x="378" y="2144">Yes</text>
<text class="l" x="544" y="2294">No</text>
<text class="l" x="244" y="2444">Yes</text>
<text class="l" x="639" y="2444">No</text>
<text class="l" x="862" y="2248">Yes</text>
<text class="l" x="1086" y="2444">No</text>
<text class="l" x="1170" y="1845">Yes</text>
<text class="l" x="1130" y="1937">No</text>
<text class="l" x="1950" y="1474">Yes</text>
<text class="l" x="2194" y="1249">No</text>
<text class="l" x="2249" y="1847">No</text>
<text class="l" x="1969" y="1722">No</text>
<text class="l" x="2031" y="2144">Yes</text>
<text class="l" x="2513" y="1686">Yes</text>
<text class="l" x="2962" y="1642">Yes</text>
<text class="l" x="2811" y="1802">No</text>
<text class="l" x="4155" y="626">No</text>
<text class="l" x="4007" y="832">Yes</text>
<text class="l" x="4525" y="832">Yes</text>
<text class="l" x="4800" y="626">No</text>
<text class="l" x="4663" y="1051">Yes</text>
<text class="l" x="4884" y="1245">No</text>
<text class="l" x="4525" y="1282">Yes</text>
<text class="l" x="4007" y="1282">Yes</text>
<text class="l" x="4244" y="1489">No</text>
<text class="l" x="3727" y="1489">No</text>
<text class="l" x="3876" y="2266">Exceptions</text>
<text class="l" x="4415" y="2266">Yup</text>
<text class="l" x="3263" y="2266">Exemptions</text>
<text class="m" x="5449" y="1220">No opportunity for criminal</text>
<text class="m" x="5449" y="1261">defendant to cross-examine?</text>
<text class="l" x="5435" y="924">TO</text>
<text class="l" x="5951" y="924">FROM</text>
<text class="l" x="5205" y="357">Yes</text>
<text class="l" x="5302" y="588">No</text>
<text class="l" x="5962" y="552">Yes</text>
<text class="l" x="5962" y="168">No</text>
<text class="l" x="6335" y="643">No</text>
<text class="l" x="6113" y="516">Yes</text>
<text class="l" x="5999" y="3078">Yes</text>
</svg>
</body></html>
